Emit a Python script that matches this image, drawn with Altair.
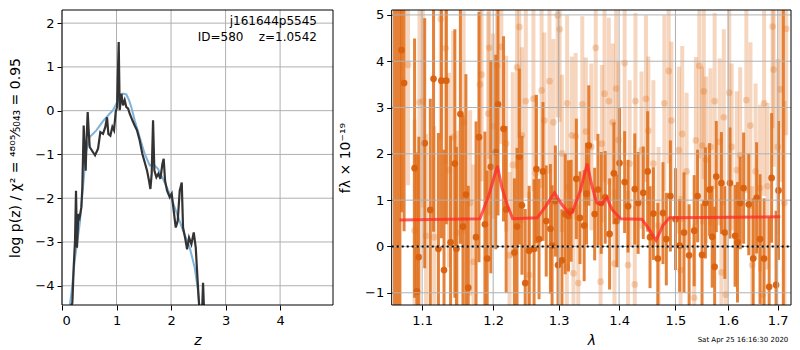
import altair as alt
import pandas as pd

# ---------------- left panel: redshift PDF ----------------
pz_z = [0.141, 0.190, 0.214, 0.239, 0.257, 0.275, 0.300, 0.324, 0.355, 0.373,
        0.398, 0.422, 0.434, 0.446, 0.471, 0.489, 0.508, 0.569, 0.606, 0.661,
        0.703, 0.752, 0.795, 0.826, 0.850, 0.887, 0.924, 0.954, 0.985, 1.009,
        1.040, 1.058, 1.089, 1.119, 1.150, 1.180, 1.211, 1.242, 1.291, 1.333,
        1.376, 1.425, 1.474, 1.517, 1.560, 1.596, 1.621, 1.645, 1.670, 1.694,
        1.731, 1.768, 1.804, 1.841, 1.865, 1.890, 1.927, 1.976, 2.012, 2.049,
        2.086, 2.122, 2.159, 2.196, 2.220, 2.257, 2.294, 2.330, 2.373, 2.416,
        2.453, 2.477, 2.502, 2.526, 2.563, 2.587, 2.612, 2.648]
pz_logp = [-4.58, -4.39, -3.59, -2.97, -1.83, -3.13, -2.36, -2.44, -2.21, -1.75,
           -0.34, -1.14, -1.37, -0.83, -0.03, -0.45, -0.83, -0.95, -1.02, -0.87,
           -0.49, -0.53, -0.37, -0.15, -0.53, -0.57, -0.37, -0.45, -0.03, 0.08,
           1.57, 0.01, 0.39, 0.12, 0.24, 0.08, 0.05, -0.07, -0.22, -0.34,
           -0.45, -0.68, -0.99, -1.18, -1.37, -1.60, -1.79, -1.44, -0.22, -1.37,
           -1.52, -1.44, -1.56, -1.22, -1.10, -1.60, -1.83, -1.98, -1.90, -2.29,
           -2.67, -2.52, -1.83, -1.64, -2.67, -2.90, -3.17, -2.90, -3.05, -2.78,
           -3.13, -3.66, -4.20, -4.66, -4.81, -3.93, -4.81, -5.50]

smooth_z = [0.110, 0.171, 0.232, 0.324, 0.385, 0.446, 0.508, 0.630, 0.752, 0.844,
            0.936, 1.028, 1.119, 1.180, 1.229, 1.272, 1.333, 1.425, 1.517, 1.609,
            1.670, 1.761, 1.853, 1.976, 2.098, 2.220, 2.343, 2.434, 2.495, 2.538]
smooth_logp = [-4.73, -4.20, -3.43, -2.59, -1.75, -0.91, -0.60, -0.45, -0.24, -0.11,
               0.01, 0.24, 0.39, 0.37, 0.24, 0.08, -0.22, -0.60, -0.99, -1.25,
               -1.22, -1.33, -1.56, -1.90, -2.32, -2.74, -3.13, -3.59, -4.12, -4.73]

z_ticks = [0, 1, 2, 3, 4]
logp_ticks = [-4, -3, -2, -1, 0, 1, 2]
annot_lines = ["j161644p5545", "ID=580\u00a0\u00a0\u00a0\u00a0z=1.0542"]

# ---------------- right panel: spectrum ----------------
dark_lam = [1.0726, 1.0760, 1.0899, 1.0930, 1.0956, 1.1035, 1.1111, 1.1155, 1.1222, 1.1263,
            1.1299, 1.1331, 1.1390, 1.1450, 1.1472, 1.1528, 1.1564, 1.1606, 1.1639, 1.1751,
            1.1793, 1.1879, 1.1912, 1.1965, 1.2037, 1.2071, 1.2153, 1.2192, 1.2316, 1.2355,
            1.2390, 1.2430, 1.2480, 1.2540, 1.2616, 1.2652, 1.2693, 1.2754, 1.2805, 1.2871,
            1.2897, 1.2949, 1.2991, 1.3054, 1.3106, 1.3159, 1.3201, 1.3286, 1.3345, 1.3414,
            1.3452, 1.3490, 1.3587, 1.3642, 1.3697, 1.3764, 1.3838, 1.3911, 1.3962, 1.4008,
            1.4095, 1.4154, 1.4271, 1.4330, 1.4420, 1.4498, 1.4540, 1.4600, 1.4680, 1.4772,
            1.4833, 1.4907, 1.5001, 1.5077, 1.5158, 1.5253, 1.5348, 1.5412, 1.5496, 1.5561,
            1.5639, 1.5690, 1.5737, 1.5769, 1.5868, 1.5934, 1.6035, 1.6136, 1.6183, 1.6237,
            1.6305, 1.6408, 1.6498, 1.6567, 1.6636, 1.6719, 1.6823, 1.6874, 1.6966, 1.7017]
dark_flux = [4.24, 3.53, 1.69, -0.97, -0.23, 2.23, 0.79, 3.62, -0.05, 3.58,
             -0.51, 3.58, 0.09, 1.79, -0.05, 2.86, 0.43, 1.12, -0.89, 0.20,
             2.36, 0.48, -0.26, 1.72, 2.04, 3.07, 2.54, 0.80, -0.13, 0.43,
             1.94, 0.89, -0.79, -0.09, -0.05, 1.67, 0.16, 1.62, 0.55, 0.38,
             0.02, 0.98, -0.40, -0.30, 0.70, 0.66, 0.77, 1.46, 0.62, 0.45,
             1.14, 2.18, 0.70, 1.23, 0.94, 1.06, 0.27, 1.58, 0.55, 1.80,
             1.39, 0.87, 1.24, 0.94, 1.16, 1.62, 0.20, 0.71, -0.26, 0.72,
             0.16, 1.09, 0.59, 0.02, 0.30, -0.19, 0.34, 1.09, -0.18, 0.94,
             1.23, 0.21, -0.44, 1.51, 1.37, 0.30, 1.37, 0.23, 0.09, 0.94,
             1.26, 0.91, -0.26, 1.05, 0.16, -0.26, -0.87, 1.48, -0.83, 1.21]
dark_err = [3.5, 3.2, 2.8, 3.0, 2.6, 2.7, 2.4, 3.3, 2.5, 3.4,
            2.6, 3.1, 2.3, 2.9, 2.2, 2.8, 2.4, 2.6, 2.2, 2.5,
            2.7, 2.0, 1.9, 2.3, 2.1, 2.4, 2.0, 1.8, 1.6, 1.7,
            1.9, 1.5, 1.6, 1.4, 1.5, 1.6, 1.3, 1.5, 1.2, 1.4,
            1.3, 1.2, 1.4, 1.1, 1.3, 1.2, 1.1, 1.3, 1.0, 1.2,
            1.1, 1.3, 1.0, 1.2, 1.1, 1.0, 1.2, 1.1, 1.0, 1.2,
            1.1, 1.0, 1.2, 1.1, 1.0, 1.3, 1.1, 1.0, 1.2, 1.1,
            1.0, 1.2, 1.1, 1.0, 1.3, 1.1, 1.2, 1.0, 1.1, 1.2,
            1.0, 1.1, 1.3, 1.2, 1.1, 1.0, 1.2, 1.1, 1.3, 1.0,
            1.2, 1.1, 1.3, 1.2, 1.4, 1.3, 1.5, 1.4, 1.6, 1.5]

edge_lam = [1.0635, 1.0672, 1.0705, 1.7118]
edge_flux = [2.0, 2.5, 1.5, 1.0]
edge_err = [9.0, 9.0, 9.0, 9.0]

light_lam = [1.0812, 1.0899, 1.0965, 1.1009, 1.1053, 1.1164, 1.1254, 1.1322, 1.1367, 1.1427,
             1.1482, 1.1574, 1.1666, 1.1713, 1.1807, 1.1831, 1.1926, 1.1941, 1.1998, 1.2056,
             1.2120, 1.2192, 1.2242, 1.2291, 1.2355, 1.2390, 1.2430, 1.2489, 1.2540, 1.2606,
             1.2642, 1.2733, 1.2775, 1.2856, 1.2918, 1.2985, 1.3017, 1.3054, 1.3132, 1.3137,
             1.3212, 1.3239, 1.3275, 1.3317, 1.3383, 1.3441, 1.3532, 1.3605, 1.3686, 1.3708,
             1.3752, 1.3825, 1.3893, 1.3921, 1.3950, 1.3990, 1.4095, 1.4154, 1.4182, 1.4271,
             1.4283, 1.4390, 1.4468, 1.4510, 1.4600, 1.4693, 1.4797, 1.4876, 1.4925, 1.5063,
             1.5094, 1.5125, 1.5206, 1.5348, 1.5380, 1.5444, 1.5496, 1.5529, 1.5574, 1.5657,
             1.5737, 1.5835, 1.5868, 1.5915, 1.5954, 1.6021, 1.6068, 1.6170, 1.6237, 1.6360,
             1.6442, 1.6477, 1.6546, 1.6636, 1.6684, 1.6719, 1.6789, 1.6894, 1.6915, 1.6999,
             1.7054, 1.7141, 1.7177]
light_flux = [3.92, 0.34, 3.11, 3.14, 0.23, 0.20, 4.91, 4.28, 1.65, 2.36,
              0.30, 2.68, 0.94, -0.33, 3.50, 3.71, 2.87, 4.29, 2.60, 3.90,
              4.31, 2.22, -0.19, 1.76, 3.87, 4.74, 2.40, 3.14, -0.62, 3.19,
              1.58, 3.37, 2.72, 3.57, 2.68, 4.99, 4.69, 2.01, -0.44, 3.09,
              2.40, -0.58, 2.38, -0.79, 3.07, 2.48, 2.15, 4.29, -0.76, 2.22,
              3.30, 3.14, 2.68, -0.37, 3.41, 2.30, 3.96, -0.40, 1.79, -0.82,
              3.14, 2.08, 3.19, 2.50, 1.79, 0.45, 3.09, 3.79, 2.72, 2.08,
              -0.51, 2.43, 1.62, -1.11, 2.29, 3.90, 2.18, 3.35, 1.87, 2.15,
              3.14, 2.26, -0.56, 2.79, -1.04, 3.32, 2.15, 1.65, 1.97, 3.16,
              2.61, -0.40, 1.62, 1.26, -1.04, 3.09, 1.30, 4.75, 3.82, 2.15,
              3.39, 0.94, 4.70]
light_err = [2.6, 2.4, 2.5, 2.3, 2.2, 2.4, 2.6, 2.5, 2.1, 2.3,
             2.2, 2.4, 2.0, 2.1, 2.5, 2.3, 2.2, 2.4, 2.0, 2.3,
             2.1, 1.9, 1.8, 2.0, 2.2, 2.4, 1.9, 2.1, 1.8, 2.0,
             1.7, 2.1, 1.9, 2.0, 1.8, 2.2, 2.0, 1.7, 1.8, 1.9,
             1.7, 1.6, 1.8, 1.7, 1.9, 1.6, 1.8, 2.0, 1.6, 1.7,
             1.9, 1.8, 1.7, 1.6, 1.9, 1.7, 2.0, 1.6, 1.8, 1.7,
             1.9, 1.7, 1.8, 1.6, 1.8, 1.7, 1.9, 2.0, 1.7, 1.8,
             1.6, 1.9, 1.7, 1.6, 1.8, 2.0, 1.7, 1.9, 1.8, 1.7,
             1.9, 1.8, 1.6, 1.9, 1.7, 2.0, 1.8, 1.7, 1.9, 2.0,
             1.8, 1.7, 1.9, 1.8, 1.7, 2.0, 1.8, 2.2, 2.1, 1.9,
             2.0, 2.2, 2.3]

model_lam = [1.070, 1.1807, 1.1935, 1.2062, 1.2130, 1.2200, 1.2290, 1.2665, 1.2800, 1.2935,
             1.3050, 1.3180, 1.3230, 1.3350, 1.3464, 1.3530, 1.3620, 1.3700, 1.3790, 1.3880,
             1.4025, 1.4395, 1.4520, 1.4648, 1.4770, 1.4890, 1.7053]
model_flux = [0.57, 0.60, 1.10, 1.74, 1.26, 0.94, 0.60, 0.62, 0.87, 1.16,
              0.91, 0.70, 0.77, 1.20, 1.79, 1.37, 0.94, 0.91, 1.05, 0.80,
              0.60, 0.59, 0.38, 0.13, 0.45, 0.62, 0.64]

lam_ticks = [1.1, 1.2, 1.3, 1.4, 1.5, 1.6, 1.7]
flux_ticks = [-1, 0, 1, 2, 3, 4, 5]
date_label = "Sat Apr 25 16:16:30 2020"

# ---------------- layout / style ----------------
FONT = "DejaVu Sans"
ORANGE = "#e06c16"
GRID = "#b0b0b0"
W, H = 729, 295          # whole drawing area (both panels)
L_END = 271              # left panel: 0 .. 271
R_START = 329.7          # right panel: 329.7 .. W

one = pd.DataFrame({"k": [0]})

# ---------- left panel ----------
z_scale = alt.Scale(domain=[0, 4.97], range=[0, L_END], nice=False, zero=False)
lp_scale = alt.Scale(domain=[-4.44, 2.3], nice=False, zero=False)
z_axis = alt.Axis(values=z_ticks, format="d", title="z", titleFontStyle="italic",
                  orient="bottom", grid=False)
lp_axis = alt.Axis(values=logp_ticks, format="d", orient="left", grid=False, titlePadding=12,
                   title="log p(z) / χ² = ⁴⁸⁰⁵⁄₅₀₄₃ = 0.95")

def XZ(f="z"):
    return alt.X(f"{f}:Q", scale=z_scale, axis=z_axis)

def YP(f="logp"):
    return alt.Y(f"{f}:Q", scale=lp_scale, axis=lp_axis)

pz_df = pd.DataFrame({"z": pz_z, "logp": pz_logp})
sm_df = pd.DataFrame({"z": smooth_z, "logp": smooth_logp})

l_vgrid = alt.Chart(pd.DataFrame({"z": z_ticks})).mark_rule(color=GRID, strokeWidth=1).encode(x=XZ())
l_hgrid = alt.Chart(pd.DataFrame({"logp": logp_ticks})).mark_rule(color=GRID, strokeWidth=1).encode(
    y=YP(), x=alt.value(0), x2=alt.value(L_END))
smooth_line = alt.Chart(sm_df).mark_line(color="#7fb3da", strokeWidth=2, clip=True).encode(x=XZ(), y=YP())
pz_line = alt.Chart(pz_df).mark_line(color="#333333", strokeWidth=2.2, clip=True).encode(x=XZ(), y=YP())
ann1 = alt.Chart(pd.DataFrame({"t": [annot_lines[0]]})).mark_text(
    align="right", baseline="middle", font=FONT, fontSize=12, color="black").encode(
    x=alt.value(255), y=alt.value(10.5), text="t:N")
ann2 = alt.Chart(pd.DataFrame({"t": [annot_lines[1]]})).mark_text(
    align="right", baseline="middle", font=FONT, fontSize=12, color="black").encode(
    x=alt.value(255), y=alt.value(26.5), text="t:N")
l_frame = alt.Chart(one).mark_rect(fillOpacity=0, stroke="black", strokeWidth=1).encode(
    x=alt.value(0), x2=alt.value(L_END), y=alt.value(0), y2=alt.value(H))

left = alt.layer(l_vgrid, l_hgrid, smooth_line, pz_line, ann1, ann2, l_frame)

# ---------- right panel ----------
lam_scale = alt.Scale(type="log", domain=[1.0598, 1.7279], range=[R_START, W], nice=False, zero=False)
f_scale = alt.Scale(domain=[-1.264, 5.106], nice=False, zero=False)
lam_axis = alt.Axis(values=lam_ticks, format=".1f", title="λ", titleFontStyle="italic",
                    orient="bottom", grid=False)
f_axis = alt.Axis(values=flux_ticks, format="d", orient="left", offset=-R_START, grid=False,
                  titlePadding=12, title="fλ × 10⁻¹⁹")

def XL(f="lam"):
    return alt.X(f"{f}:Q", scale=lam_scale, axis=lam_axis)

def YF(f="f"):
    return alt.Y(f"{f}:Q", scale=f_scale, axis=f_axis)

def err_df(lam, flux, err):
    d = pd.DataFrame({"lam": lam, "f": flux, "e": err})
    d["lo"] = d["f"] - d["e"]
    d["hi"] = d["f"] + d["e"]
    return d

dark_df = err_df(dark_lam, dark_flux, dark_err)
light_df = err_df(light_lam, light_flux, light_err)
edge_df = err_df(edge_lam, edge_flux, edge_err)
model_df = pd.DataFrame({"lam": model_lam, "f": model_flux})

light_bars = alt.Chart(light_df).mark_rule(color=ORANGE, opacity=0.28, strokeWidth=4, clip=True).encode(
    x=XL(), y=YF("lo"), y2="hi:Q")
light_pts = alt.Chart(light_df).mark_circle(color=ORANGE, opacity=0.28, size=45, clip=True).encode(
    x=XL(), y=YF())
edge_bars = alt.Chart(edge_df).mark_rule(color=ORANGE, opacity=0.85, strokeWidth=3, clip=True).encode(
    x=XL(), y=YF("lo"), y2="hi:Q")
dark_bars = alt.Chart(dark_df).mark_rule(color=ORANGE, opacity=0.85, strokeWidth=3, clip=True).encode(
    x=XL(), y=YF("lo"), y2="hi:Q")
dark_pts = alt.Chart(dark_df).mark_circle(color="#d9600d", opacity=0.95, size=45, clip=True).encode(
    x=XL(), y=YF())
r_vgrid = alt.Chart(pd.DataFrame({"lam": lam_ticks})).mark_rule(color=GRID, strokeWidth=1).encode(x=XL())
r_hgrid = alt.Chart(pd.DataFrame({"f": flux_ticks})).mark_rule(color=GRID, strokeWidth=1).encode(
    y=YF(), x=alt.value(R_START), x2=alt.value(W))
model = alt.Chart(model_df).mark_line(color="#ff2a2a", opacity=0.75, strokeWidth=3, clip=True).encode(
    x=XL(), y=YF())
zero = alt.Chart(pd.DataFrame({"f": [0.0]})).mark_rule(color="black", strokeDash=[2, 3], strokeWidth=2).encode(
    y=YF(), x=alt.value(R_START), x2=alt.value(W))
date = alt.Chart(pd.DataFrame({"t": [date_label]})).mark_text(
    font=FONT, fontSize=7, color="black", align="center", baseline="middle").encode(
    x=alt.value(681), y=alt.value(330), text="t:N")
r_frame = alt.Chart(one).mark_rect(fillOpacity=0, stroke="black", strokeWidth=1).encode(
    x=alt.value(R_START), x2=alt.value(W), y=alt.value(0), y2=alt.value(H))

right = alt.layer(light_bars, light_pts, edge_bars, dark_bars, dark_pts, r_vgrid, r_hgrid,
                  model, zero, date, r_frame)

chart = alt.layer(left, right).resolve_scale(
    x="independent", y="independent"
).resolve_axis(
    x="independent", y="independent"
).properties(
    width=W, height=H,
    autosize=alt.AutoSizeParams(type="none"),
    padding={"left": 54, "top": 2, "right": 1, "bottom": 45},
).configure_view(strokeWidth=0).configure_axis(
    labelFont=FONT, titleFont=FONT, labelFontSize=13, titleFontSize=14,
    labelColor="black", titleColor="black", titleFontWeight="normal",
    tickColor="black", tickSize=5, tickWidth=1, domain=False,
    labelPadding=3, titlePadding=5,
).configure_axisX(labelPadding=4, titlePadding=6).configure_text(font=FONT)

chart.save("out.html", embed_options={"renderer": "svg", "actions": False})
